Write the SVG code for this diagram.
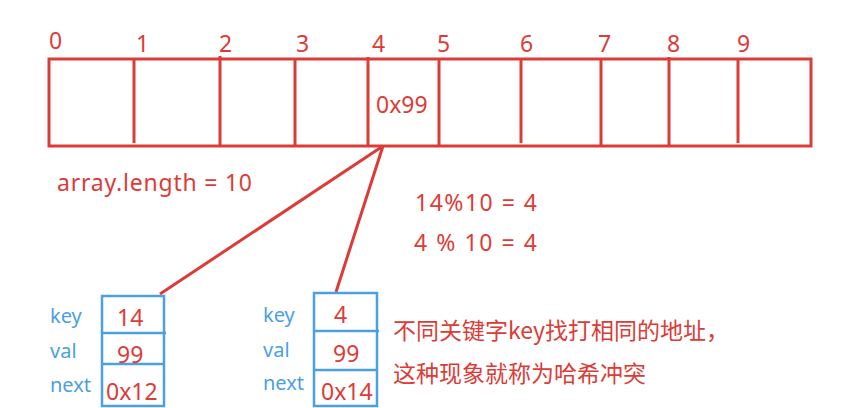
<svg xmlns="http://www.w3.org/2000/svg" width="855" height="408" viewBox="0 0 855 408">
<style>
.r{fill:#dc3c37;font-family:"Noto Sans","Noto Sans CJK SC",sans-serif;font-size:23px}
.b{fill:#4ba0e3;font-family:"Noto Sans",sans-serif;font-size:20px}
.cn{fill:#dc3c37;font-family:"Noto Sans CJK SC",sans-serif;font-size:23px}
.rl{stroke:#dc3c37;stroke-width:3;fill:none}
.bl{stroke:#4ba0e3;stroke-width:2.5;fill:none}
</style>
<rect width="855" height="408" fill="#fff"/>
<g id="array">
<rect class="rl" x="49" y="59" width="762" height="87"/>
<path class="rl" d="M134 59V143M220 56V146M295 59V146M368 57V146M439 59V146M521 59V143M601 59V146M669 57V146M738 59V143"/>
<text class="r" x="49" y="49">0</text>
<text class="r" x="136" y="52">1</text>
<text class="r" x="219" y="52">2</text>
<text class="r" x="296" y="52">3</text>
<text class="r" x="372" y="52">4</text>
<text class="r" x="437" y="52">5</text>
<text class="r" x="520" y="52">6</text>
<text class="r" x="598" y="52">7</text>
<text class="r" x="667" y="52">8</text>
<text class="r" x="737" y="52">9</text>
<text class="r" x="376" y="113">0x99</text>
</g>
<g id="notes">
<text class="r" x="57" y="191" textLength="195">array.length = 10</text>
<text class="r" x="415" y="211" textLength="122">14%10 = 4</text>
<text class="r" x="414" y="251" textLength="123">4 % 10 = 4</text>
<text class="cn" x="393" y="339">不同关键字key找打相同的地址，</text>
<text class="cn" x="393" y="382">这种现象就称为哈希冲突</text>
</g>
<g id="connectors">
<path class="rl" d="M383 146L160 294M383 146L336 292" stroke-width="2.5"/>
</g>
<g id="node1">
<rect class="bl" x="102" y="296" width="62" height="110"/>
<path class="bl" d="M102 333H166M102 364H164"/>
<text class="r" x="117" y="326">14</text>
<text class="r" x="117" y="363">99</text>
<text class="r" x="106" y="400">0x12</text>
<text class="b" x="50" y="323">key</text>
<text class="b" x="50" y="358">val</text>
<text class="b" x="50" y="392">next</text>
</g>
<g id="node2">
<rect class="bl" x="314" y="293" width="63" height="113"/>
<path class="bl" d="M314 331H379M314 370H377"/>
<text class="r" x="334" y="323">4</text>
<text class="r" x="333" y="362">99</text>
<text class="r" x="321" y="400">0x14</text>
<text class="b" x="263" y="322">key</text>
<text class="b" x="263" y="357">val</text>
<text class="b" x="263" y="390">next</text>
</g>
</svg>
